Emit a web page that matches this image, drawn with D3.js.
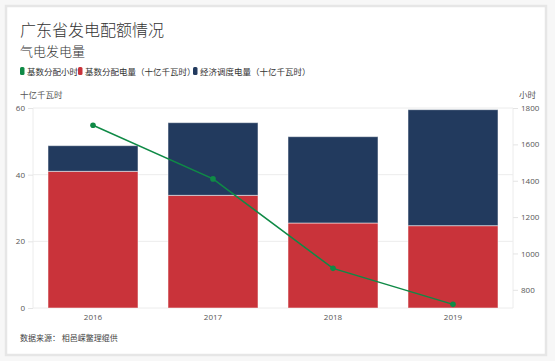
<!DOCTYPE html>
<html>
<head>
<meta charset="utf-8">
<script src="https://cdn.jsdelivr.net/npm/d3@7"></script>
<style>
  body { margin: 0; background: #f7f7f7; font-family: "Noto Sans CJK SC", "Noto Sans", sans-serif; }
</style>
</head>
<body>
<svg id="chart" width="555" height="361"></svg>
<script>
const years = ["2016", "2017", "2018", "2019"];
const baseEnergy = [41, 33.8, 25.5, 24.7];
const dispatchEnergy = [7.7, 21.8, 25.9, 34.8];
const baseHours = [1705, 1410, 918, 720];
const leftTicks = [0, 20, 40, 60];
const rightTicks = [800, 1000, 1200, 1400, 1600, 1800];

const red = "#c9333a", navy = "#223a5e", green = "#0f8a46";

const svg = d3.select("#chart");
const font = "'Noto Sans CJK SC', sans-serif";

// card
svg.append("rect").attr("x", 6).attr("y", 6).attr("width", 540).attr("height", 349)
  .attr("fill", "#fff").attr("stroke", "#e6e6e6").attr("stroke-width", 2.5);

svg.append("text").attr("x", 20).attr("y", 36).text("广东省发电配额情况")
  .attr("font-family", font).attr("font-size", 16).attr("font-weight", 300).attr("fill", "#333");
svg.append("text").attr("x", 20).attr("y", 56).text("气电发电量")
  .attr("font-family", font).attr("font-size", 13).attr("font-weight", 300).attr("fill", "#333");

// legend
const legend = [
  { label: "基数分配小时", color: green, x: 20 },
  { label: "基数分配电量（十亿千瓦时）", color: red, x: 78 },
  { label: "经济调度电量（十亿千瓦时）", color: navy, x: 193 }
];
const lg = svg.append("g").selectAll("g").data(legend).enter().append("g")
  .attr("transform", d => "translate(" + d.x + ",67)");
lg.append("rect").attr("width", 4.5).attr("height", 8).attr("rx", 1.5).attr("fill", d => d.color);
lg.append("text").attr("x", 7).attr("y", 7.5).text(d => d.label)
  .attr("font-family", font).attr("font-size", 8.5).attr("fill", "#333");

const mLeft = 33, mRight = 513, mTop = 108, mBottom = 308;

const x = d3.scaleBand().domain(years).range([mLeft, mRight]).paddingInner(0.25).paddingOuter(0.125);
const yL = d3.scaleLinear().domain([0, 60]).range([mBottom, mTop]);
const yR = d3.scaleLinear().domain([700, 1800]).range([mBottom, mTop]);

// grid
svg.append("g").selectAll("line").data(leftTicks).enter().append("line")
  .attr("x1", mLeft).attr("x2", mRight).attr("y1", d => yL(d)).attr("y2", d => yL(d))
  .attr("stroke", "#ececec");
svg.append("line").attr("x1", mLeft).attr("x2", mLeft).attr("y1", mTop).attr("y2", mBottom).attr("stroke", "#ececec");
svg.append("line").attr("x1", mRight).attr("x2", mRight).attr("y1", mTop).attr("y2", mBottom).attr("stroke", "#ececec");

// axes
const axL = svg.append("g").attr("transform", "translate(" + mLeft + ",0)")
  .call(d3.axisLeft(yL).tickValues(leftTicks).tickSize(5).tickPadding(3));
const axR = svg.append("g").attr("transform", "translate(" + mRight + ",0)")
  .call(d3.axisRight(yR).tickValues(rightTicks).tickFormat(d3.format("d")).tickSize(5).tickPadding(3));
const axB = svg.append("g").attr("transform", "translate(0," + mBottom + ")")
  .call(d3.axisBottom(x).tickSize(0).tickPadding(6));
[axL, axR, axB].forEach(a => {
  a.select(".domain").remove();
  a.selectAll("line").attr("stroke", "#e4e4e4");
  a.selectAll("text").attr("font-family", "'Open Sans', sans-serif").attr("font-size", 8).attr("fill", "#555");
});

svg.append("text").attr("x", 20).attr("y", 98).text("十亿千瓦时")
  .attr("font-family", font).attr("font-size", 8.5).attr("fill", "#555");
svg.append("text").attr("x", 519).attr("y", 98).text("小时")
  .attr("font-family", font).attr("font-size", 8.5).attr("fill", "#555");

// bars
const bars = svg.append("g");
years.forEach((yr, i) => {
  bars.append("rect").attr("x", x(yr)).attr("width", x.bandwidth())
    .attr("y", yL(baseEnergy[i])).attr("height", yL(0) - yL(baseEnergy[i]))
    .attr("fill", red).attr("stroke", "rgba(255,255,255,0.5)").attr("stroke-width", 1);
  const tot = baseEnergy[i] + dispatchEnergy[i];
  bars.append("rect").attr("x", x(yr)).attr("width", x.bandwidth())
    .attr("y", yL(tot)).attr("height", yL(baseEnergy[i]) - yL(tot))
    .attr("fill", navy).attr("stroke", "rgba(255,255,255,0.5)").attr("stroke-width", 1);
});

// line
const line = d3.line().x((d, i) => x(years[i]) + x.bandwidth() / 2).y(d => yR(d));
svg.append("path").datum(baseHours).attr("d", line)
  .attr("fill", "none").attr("stroke", green).attr("stroke-width", 1.5);
svg.append("g").selectAll("circle").data(baseHours).enter().append("circle")
  .attr("cx", (d, i) => x(years[i]) + x.bandwidth() / 2).attr("cy", d => yR(d))
  .attr("r", 2.8).attr("fill", green);

svg.append("text").attr("x", 20).attr("y", 341).text("数据来源：  相邑嵘鳖理绲供")
  .attr("font-family", font).attr("font-size", 8).attr("fill", "#444");
</script>
</body>
</html>
